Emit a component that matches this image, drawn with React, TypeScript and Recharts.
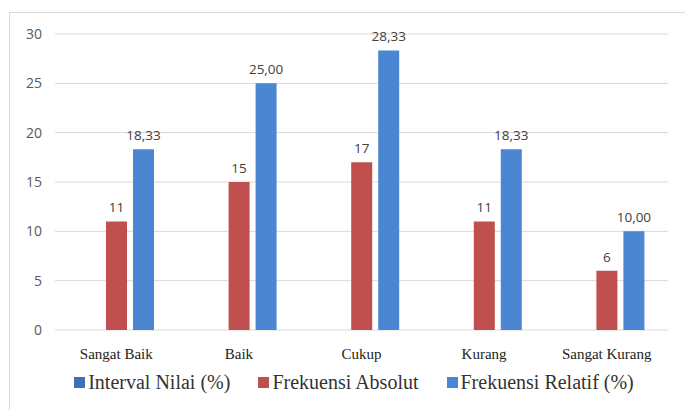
import { BarChart, Bar, XAxis, YAxis, CartesianGrid, Legend, LabelList } from 'recharts'

const categories = ['Sangat Baik', 'Baik', 'Cukup', 'Kurang', 'Sangat Kurang']
const intervalNilai = [0, 0, 0, 0, 0]
const frekuensiAbsolut = [11, 15, 17, 11, 6]
const frekuensiRelatif = [18.33, 25.0, 28.33, 18.33, 10.0]
const yTicks = [0, 5, 10, 15, 20, 25, 30]

const seriesNames = ['Interval Nilai (%)', 'Frekuensi Absolut', 'Frekuensi Relatif (%)']
const colors = ['#3f6fb8', '#c0504d', '#4a86d2']

const chartData = categories.map((name, i) => ({
  name,
  interval: intervalNilai[i],
  absolut: frekuensiAbsolut[i],
  relatif: frekuensiRelatif[i],
}))

const serif = 'Liberation Serif, Times New Roman, serif'
const sans = 'Open Sans, sans-serif'
const fmtComma = (v: any) => Number(v).toFixed(2).replace('.', ',')

function LegendRow() {
  return (
    <div style={{ display: 'flex', justifyContent: 'center', gap: 28, paddingTop: 5, paddingLeft: 40, fontFamily: serif, fontWeight: 400, fontSize: 20, lineHeight: '22px', color: '#333' }}>
      {seriesNames.map((s, i) => (
        <div key={s} style={{ display: 'flex', alignItems: 'center' }}>
          <span style={{ width: 11, height: 11, background: colors[i], marginRight: 3, display: 'inline-block' }} />
          {s}
        </div>
      ))}
    </div>
  )
}

export default function App() {
  return (
    <div style={{ position: 'absolute', left: 0, top: 0, width: 685, height: 410, background: '#fff', overflow: 'hidden' }}>
      <div style={{ position: 'absolute', left: 9, top: 12, width: 690, height: 410, border: '1px solid #d9d9d9' }} />
      <BarChart
        width={685}
        height={410}
        data={chartData}
        margin={{ top: 34, right: 17, left: 0, bottom: 6 }}
        barGap={6}
        barCategoryGap={24}
        style={{ position: 'absolute', left: 0, top: 0 }}
      >
        <CartesianGrid vertical={false} stroke="#d9d9d9" />
        <XAxis
          dataKey="name"
          axisLine={false}
          tickLine={false}
          height={36}
          tickMargin={12}
          tick={{ fontFamily: serif, fontWeight: 400, fontSize: 15, fill: '#222' }}
          interval={0}
        />
        <YAxis
          width={55}
          domain={[0, 30]}
          ticks={yTicks}
          axisLine={false}
          tickLine={false}
          tickMargin={7}
          tick={{ fontFamily: sans, fontSize: 14, fill: '#595959' }}
        />
        <Legend verticalAlign="bottom" height={38} content={() => <LegendRow />} />
        <Bar dataKey="interval" name={seriesNames[0]} fill={colors[0]} barSize={21} isAnimationActive={false} />
        <Bar dataKey="absolut" name={seriesNames[1]} fill={colors[1]} barSize={21} isAnimationActive={false}>
          <LabelList dataKey="absolut" position="top" offset={9} style={{ fontFamily: sans, fontSize: 13.5, fill: '#404040' }} />
        </Bar>
        <Bar dataKey="relatif" name={seriesNames[2]} fill={colors[2]} barSize={21} isAnimationActive={false}>
          <LabelList dataKey="relatif" position="top" offset={9} formatter={fmtComma} style={{ fontFamily: sans, fontSize: 13.5, fill: '#404040' }} />
        </Bar>
      </BarChart>
    </div>
  )
}
